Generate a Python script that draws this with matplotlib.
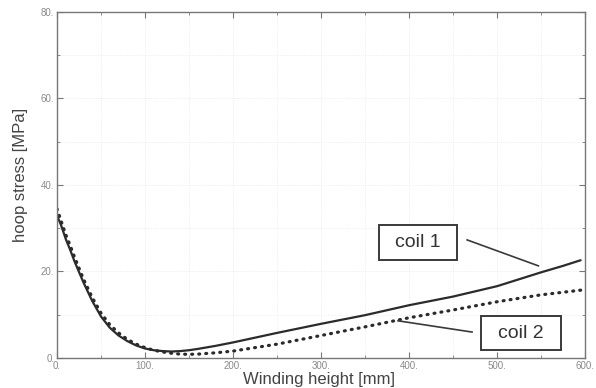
import matplotlib
matplotlib.use("Agg")
import matplotlib.pyplot as plt
from matplotlib.patches import Rectangle
from matplotlib.ticker import FuncFormatter, MultipleLocator

plt.rcParams["font.family"] = ["Liberation Sans", "DejaVu Sans"]

# winding height [mm] / hoop stress [MPa]
coil1_x = [0, 5, 10, 15, 20, 30, 40, 50, 60, 70, 80, 90, 100, 110, 120, 130,
           140, 150, 160, 180, 200, 250, 300, 350, 400, 450, 500, 525, 550, 575, 595]
coil1_y = [33.0, 30.5, 27.5, 25.0, 22.3, 17.5, 13.2, 9.6, 7.0, 5.2, 3.9, 2.9, 2.2, 1.8,
           1.6, 1.5, 1.6, 1.8, 2.1, 2.8, 3.6, 5.8, 7.9, 9.9, 12.2, 14.2, 16.6, 18.2, 19.8,
           21.3, 22.6]

coil2_x = [0, 5, 10, 15, 20, 30, 40, 50, 60, 70, 80, 90, 100, 110, 120, 130, 140,
           150, 160, 180, 200, 250, 300, 350, 400, 450, 500, 550, 600]
coil2_y = [34.5, 31.5, 28.5, 26.0, 23.3, 18.3, 14.0, 10.4, 7.7, 5.8, 4.3, 3.2, 2.4,
           1.8, 1.4, 1.1, 0.9, 0.85, 0.9, 1.2, 1.6, 3.2, 5.2, 7.2, 9.3, 11.1, 13.0,
           14.6, 15.8]

series_names = ["coil 1", "coil 2"]

fig = plt.figure(figsize=(5.96, 3.88), dpi=100)
ax = fig.add_axes([0.0956, 0.0773, 0.886, 0.892])

ax.plot(coil1_x, coil1_y, color="#2b2b2b", linewidth=1.6, solid_capstyle="round")
ax.plot(coil2_x, coil2_y, color="#2b2b2b", linewidth=2.3, linestyle=(0, (0.3, 1.9)),
        dash_capstyle="round")

ax.set_xlim(0, 600)
ax.set_ylim(0, 80)
ax.xaxis.set_major_locator(MultipleLocator(100))
ax.xaxis.set_minor_locator(MultipleLocator(50))
ax.yaxis.set_major_locator(MultipleLocator(20))
ax.yaxis.set_minor_locator(MultipleLocator(10))
fmt = FuncFormatter(lambda v, p: f"{v:.0f}.")
ax.xaxis.set_major_formatter(fmt)
ax.yaxis.set_major_formatter(fmt)
ax.tick_params(which="both", direction="in", top=True, right=True,
               color="#777777", labelcolor="#8a8a8a", labelsize=7, pad=2)
ax.tick_params(which="major", length=4, width=0.8)
ax.tick_params(which="minor", length=2, width=0.6)
for sp in ax.spines.values():
    sp.set_color("#777777")
    sp.set_linewidth(1.0)
ax.grid(which="both", color="#e4e4e4", linestyle=":", linewidth=0.5)
ax.set_axisbelow(True)

fig.text(0.034, 0.55, "hoop stress [MPa]", rotation=90, ha="center", va="center",
         fontsize=12, color="#444444")
fig.text(0.535, 0.003, "Winding height [mm]", ha="center", va="bottom",
         fontsize=12, color="#444444")

# labelled boxes with leader lines
boxes = [(366, 22.7, 89, 8.1), (482, 1.85, 91, 7.85)]
leaders = [((466, 27.3), (547, 21.3)), ((471.6, 6.0), (387.5, 8.6))]
for name, (bx, by, bw, bh), (p0, p1) in zip(series_names, boxes, leaders):
    ax.add_patch(Rectangle((bx, by), bw, bh, facecolor="white", edgecolor="#3a3a3a",
                           linewidth=1.4, zorder=4))
    ax.text(bx + bw / 2, by + bh / 2, name, ha="center", va="center", fontsize=14,
            color="#333333", zorder=5)
    ax.plot([p0[0], p1[0]], [p0[1], p1[1]], color="#3a3a3a", linewidth=1.2, zorder=4)

fig.savefig("out.png", dpi=100)
